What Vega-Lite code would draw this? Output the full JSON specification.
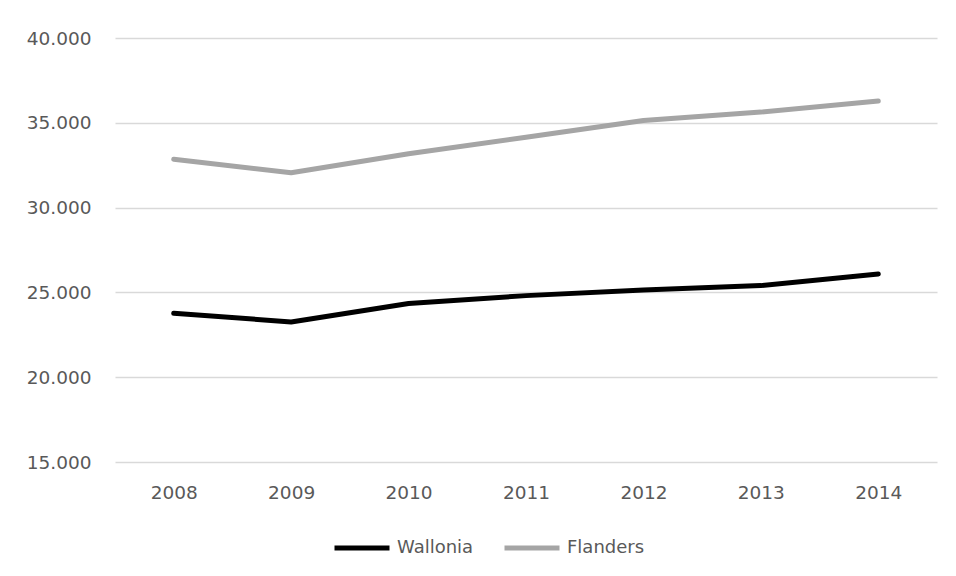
{
  "$schema": "https://vega.github.io/schema/vega-lite/v6.json",
  "width": 822,
  "height": 424,
  "autosize": {"type": "none"},
  "padding": {"left": 115, "top": 38, "right": 19, "bottom": 114},
  "background": "white",
  "config": {
    "locale": {"number": {"decimal": ",", "thousands": ".", "grouping": [3], "currency": ["", " €"]}},
    "view": {"stroke": null},
    "font": "DejaVu Sans",
    "axis": {
      "labelFont": "DejaVu Sans",
      "labelFontSize": 18.5,
      "labelColor": "#595959",
      "domain": false,
      "ticks": false,
      "title": null
    }
  },
  "data": {
    "values": [
      {"year": "2008", "region": "Wallonia", "value": 23770},
      {"year": "2009", "region": "Wallonia", "value": 23260},
      {"year": "2010", "region": "Wallonia", "value": 24350},
      {"year": "2011", "region": "Wallonia", "value": 24810},
      {"year": "2012", "region": "Wallonia", "value": 25140},
      {"year": "2013", "region": "Wallonia", "value": 25400},
      {"year": "2014", "region": "Wallonia", "value": 26080},
      {"year": "2008", "region": "Flanders", "value": 32850},
      {"year": "2009", "region": "Flanders", "value": 32050},
      {"year": "2010", "region": "Flanders", "value": 33180},
      {"year": "2011", "region": "Flanders", "value": 34150},
      {"year": "2012", "region": "Flanders", "value": 35140},
      {"year": "2013", "region": "Flanders", "value": 35630},
      {"year": "2014", "region": "Flanders", "value": 36280}
    ]
  },
  "mark": {"type": "line", "strokeWidth": 5, "strokeCap": "round", "strokeJoin": "round"},
  "encoding": {
    "x": {
      "field": "year",
      "type": "ordinal",
      "scale": {"type": "point", "padding": 0.5},
      "axis": {"labelAngle": 0, "grid": false, "labelPadding": 21}
    },
    "y": {
      "field": "value",
      "type": "quantitative",
      "scale": {"domain": [15000, 40000], "nice": false, "zero": false},
      "axis": {
        "values": [15000, 20000, 25000, 30000, 35000, 40000],
        "format": ",d",
        "labelPadding": 24,
        "grid": true,
        "gridColor": "#d9d9d9",
        "gridWidth": 1.5
      }
    },
    "color": {
      "field": "region",
      "type": "nominal",
      "scale": {"domain": ["Wallonia", "Flanders"], "range": ["#000000", "#a5a5a5"]},
      "legend": {
        "title": null,
        "orient": "none",
        "direction": "horizontal",
        "legendX": 217,
        "legendY": 480,
        "symbolType": "stroke",
        "symbolSize": 3025,
        "symbolStrokeWidth": 5,
        "labelFont": "DejaVu Sans",
        "labelFontSize": 18,
        "labelColor": "#595959",
        "labelOffset": 5,
        "columnPadding": 20
      }
    }
  }
}
